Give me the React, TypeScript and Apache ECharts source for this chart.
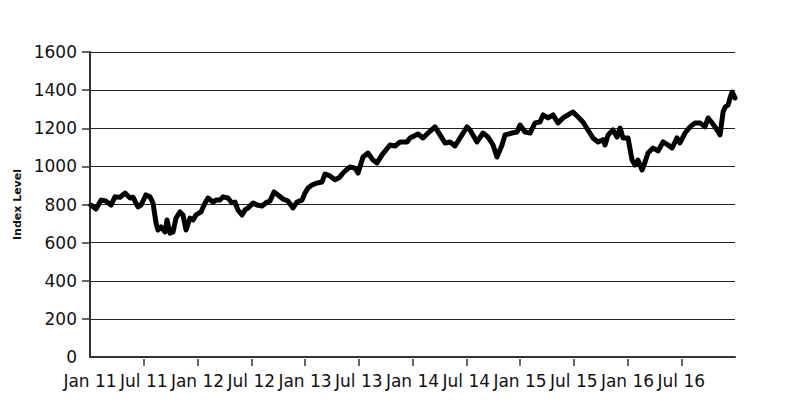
import React, { useEffect, useRef } from "react";
import * as echarts from "echarts";

// Months since Jan 2011
const months: number[] = [
  0.1, 0.67, 1.23, 1.79, 2.34, 2.79, 3.35, 3.91, 4.47, 4.8, 5.36, 5.69, 6.25, 6.7, 7.03, 7.37, 7.59, 7.93,
  8.37, 8.6, 8.93, 9.27, 9.6, 10.05, 10.38, 10.72, 11.16, 11.5, 11.83, 12.39, 12.84, 13.17, 13.73, 14.07,
  14.51, 14.85, 15.4, 15.85, 16.19, 16.52, 16.97, 17.3, 17.64, 18.2, 18.64, 19.2, 19.76, 20.09, 20.54,
  20.99, 21.54, 22.1, 22.66, 23.11, 23.67, 24.0, 24.34, 24.78, 25.34, 25.9, 26.23, 26.79, 27.35, 27.8,
  28.24, 28.6, 29.02, 29.58, 29.92, 30.48, 31.03, 31.59, 32.04, 32.6, 33.49, 34.05, 34.61, 35.39, 35.72,
  36.62, 37.17, 37.73, 38.51, 39.07, 39.63, 40.19, 40.75, 41.3, 42.09, 42.42, 43.2, 43.87, 44.43, 44.99,
  45.43, 45.99, 46.33, 47.11, 47.67, 48.0, 48.56, 49.12, 49.68, 50.23, 50.57, 51.13, 51.69, 52.24, 52.8,
  53.36, 53.92, 54.48, 55.03, 55.59, 56.15, 56.71, 57.27, 57.49, 57.83, 58.38, 58.83, 59.17, 59.5, 60.06,
  60.51, 60.84, 61.17, 61.62, 61.96, 62.29, 62.85, 63.41, 63.97, 64.53, 64.97, 65.53, 65.86, 66.42,
  66.98, 67.54, 68.1, 68.65, 68.99, 69.44, 70.0, 70.33, 70.67, 70.89, 71.23, 71.45, 71.68, 72.0,
];

const indexLevel: number[] = [
  797, 776, 823, 818, 797, 840, 838, 860, 834, 838, 787, 797, 850, 840, 808, 703, 666, 682,
  656, 719, 650, 656, 729, 761, 745, 666, 729, 719, 745, 761, 808, 834, 813, 823,
  823, 840, 834, 808, 813, 771, 745, 771, 782, 808, 797, 792, 813, 818, 866,
  850, 829, 818, 782, 813, 823, 860, 887, 902, 913, 918, 960, 950, 930, 940,
  965, 981, 997, 991, 965, 1049, 1070, 1033, 1018, 1060, 1112, 1107, 1128, 1128, 1149,
  1170, 1149, 1175, 1207, 1165, 1123, 1128, 1107, 1149, 1207, 1191, 1128, 1175, 1154, 1112,
  1049, 1112, 1165, 1175, 1180, 1217, 1180, 1175, 1228, 1233, 1270, 1254, 1270, 1228, 1254,
  1270, 1285, 1259, 1233, 1191, 1149, 1128, 1140, 1112, 1165, 1191, 1154, 1201, 1149, 1149,
  1033, 1007, 1033, 981, 1023, 1070, 1096, 1081, 1128, 1112, 1096, 1149, 1123, 1175,
  1207, 1228, 1228, 1207, 1254, 1228, 1191, 1165, 1285, 1311, 1322, 1359, 1390, 1359,
];

const xTickMonths: number[] = [0, 6, 12, 18, 24, 30, 36, 42, 48, 54, 60, 66];
const xTickLabels: string[] = [
  "Jan 11", "Jul 11", "Jan 12", "Jul 12", "Jan 13", "Jul 13",
  "Jan 14", "Jul 14", "Jan 15", "Jul 15", "Jan 16", "Jul 16",
];
const yTicks: number[] = [0, 200, 400, 600, 800, 1000, 1200, 1400, 1600];

const FONT = "DejaVu Sans";

export default function App() {
  const ref = useRef<HTMLDivElement>(null);
  useEffect(() => {
    if (!ref.current) return;
    const chart = echarts.init(ref.current, null, { renderer: "svg" });
    const data = months.map((m, i) => [m, indexLevel[i]]);
    chart.setOption({
      animation: false,
      backgroundColor: "#ffffff",
      grid: { left: 90, right: 50, top: 52, bottom: 51, containLabel: false },
      xAxis: [
        {
          type: "value",
          min: 0,
          max: 72,
          interval: 6,
          axisLine: { show: true, lineStyle: { color: "#333", width: 2 } },
          axisTick: { show: false },
          axisLabel: { show: false },
          splitLine: { show: false },
        },
        {
          type: "value",
          position: "bottom",
          offset: 2,
          min: 0,
          max: 72,
          interval: 6,
          axisLine: { show: false },
          axisTick: {
            show: true,
            length: 7,
            customValues: xTickMonths.slice(1),
            lineStyle: { color: "#333", width: 1.5 },
          },
          axisLabel: {
            show: true,
            customValues: xTickMonths,
            margin: 13,
            fontFamily: FONT,
            fontSize: 17,
            color: "#111",
            formatter: (v: number) => {
              const i = xTickMonths.indexOf(Math.round(v));
              return i >= 0 ? xTickLabels[i] : "";
            },
          },
          splitLine: { show: false },
        },
      ],
      yAxis: {
        type: "value",
        min: 0,
        max: 1600,
        interval: 200,
        name: "Index Level",
        nameLocation: "middle",
        nameGap: 60,
        nameRotate: 90,
        nameTextStyle: { fontFamily: FONT, fontSize: 11, fontWeight: "bold", color: "#111" },
        axisLine: { show: true, lineStyle: { color: "#333", width: 2 } },
        axisTick: {
          show: true,
          length: 8,
          customValues: yTicks.slice(1),
          lineStyle: { color: "#333", width: 1.5 },
        },
        axisLabel: {
          margin: 13,
          fontFamily: FONT,
          fontSize: 17,
          color: "#111",
          formatter: (v: number) => String(v),
        },
        splitLine: { show: true, lineStyle: { color: "#222", width: 1.2 } },
      },
      series: [
        {
          type: "line",
          xAxisIndex: 0,
          data,
          showSymbol: false,
          symbol: "none",
          lineStyle: { color: "#000", width: 5, join: "round", cap: "round" },
          z: 5,
        },
      ],
    });
    return () => chart.dispose();
  }, []);
  return (
    <div
      ref={ref}
      style={{ position: "fixed", left: 0, top: 0, width: 785, height: 408 }}
    />
  );
}
